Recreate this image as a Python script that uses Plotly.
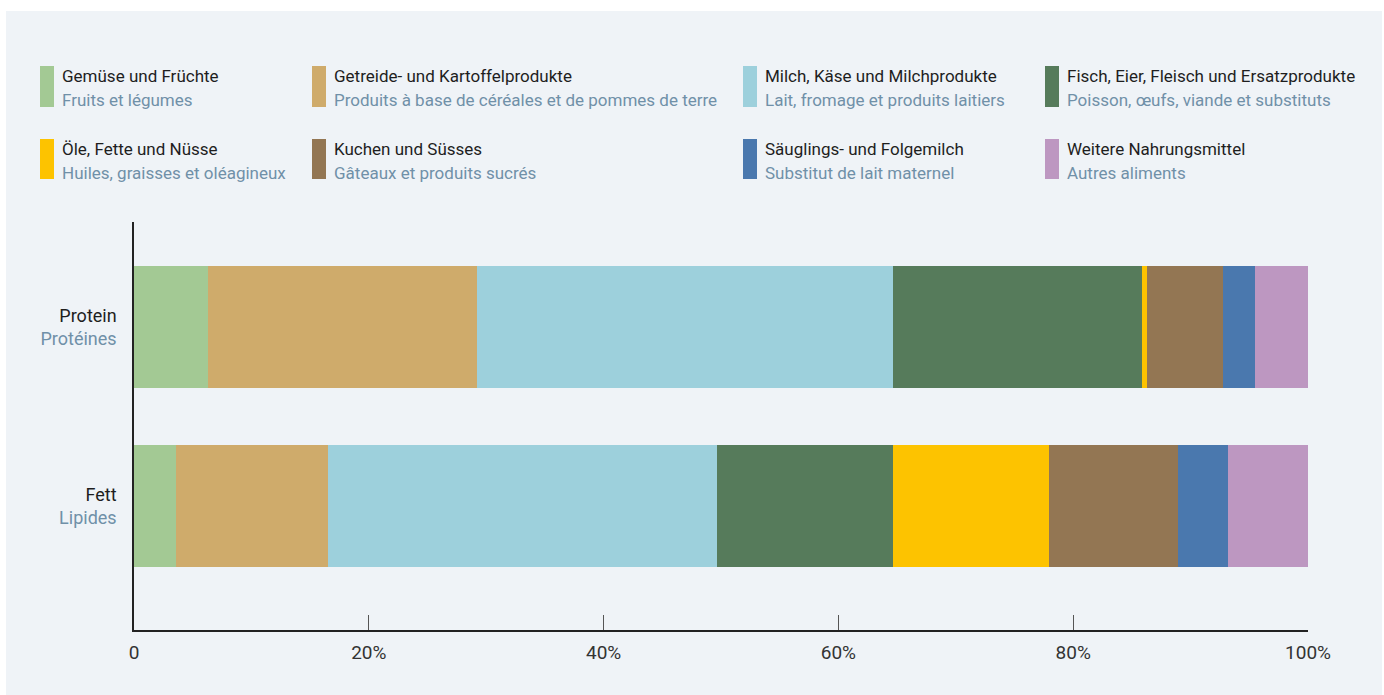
import plotly.graph_objects as go

# ---- data ----
categories = ["Fett", "Protein"]
cat_labels_de = {"Protein": "Protein", "Fett": "Fett"}
cat_labels_fr = {"Protein": "Protéines", "Fett": "Lipides"}

series_de = ["Gemüse und Früchte", "Getreide- und Kartoffelprodukte", "Milch, Käse und Milchprodukte",
             "Fisch, Eier, Fleisch und Ersatzprodukte", "Öle, Fette und Nüsse", "Kuchen und Süsses",
             "Säuglings- und Folgemilch", "Weitere Nahrungsmittel"]
series_fr = ["Fruits et légumes", "Produits à base de céréales et de pommes de terre",
             "Lait, fromage et produits laitiers", "Poisson, œufs, viande et substituts",
             "Huiles, graisses et oléagineux", "Gâteaux et produits sucrés",
             "Substitut de lait maternel", "Autres aliments"]
colors = ["#a3c994", "#cfab6b", "#9dd0dc", "#567b5b", "#fdc300", "#937653", "#4a78ae", "#bd97c1"]

# values in % : [Fett, Protein]
vals_gemuese = [3.6, 6.3]
vals_getreide = [12.9, 22.9]
vals_milch = [33.2, 35.45]
vals_fisch = [14.95, 21.25]
vals_oele = [13.25, 0.4]
vals_kuchen = [11.0, 6.5]
vals_saeugling = [4.3, 2.7]
vals_weitere = [6.8, 4.5]
values = [vals_gemuese, vals_getreide, vals_milch, vals_fisch, vals_oele, vals_kuchen, vals_saeugling, vals_weitere]

x_ticks = [0, 20, 40, 60, 80, 100]
x_ticktext = ["0", "20%", "40%", "60%", "80%", "100%"]

# ---- layout constants ----
W, H = 1384, 695
L, R, T, B = 134, 1308, 222, 630
FR_COLOR = "#7090a8"
TXT = "#1e1e1e"
FONT = "Roboto"

def px_x(px):
    return (px - L) / (R - L)

def px_y(py):
    return (B - py) / (B - T)

fig = go.Figure()
for name, vals, col in zip(series_de, values, colors):
    fig.add_trace(go.Bar(
        y=categories, x=vals, name=name, orientation="h",
        marker=dict(color=col, line=dict(width=0)),
        width=0.6816, showlegend=False,
    ))

ticktext_y = [f"{cat_labels_de[c]}<br><span style='color:{FR_COLOR}'>{cat_labels_fr[c]}</span>" for c in categories]

shapes = [
    dict(type="rect", xref="paper", yref="paper", layer="below",
         x0=px_x(6), x1=px_x(1382), y0=px_y(11), y1=px_y(700),
         fillcolor="#eff3f7", line=dict(width=0)),
]
annotations = []
col_x = [40, 312, 743, 1045]
row_y = [(66, 107), (139, 179)]
for i, (de, fr, col) in enumerate(zip(series_de, series_fr, colors)):
    r, c = divmod(i, 4)
    x0 = col_x[c]
    y0, y1 = row_y[r]
    shapes.append(dict(type="rect", xref="paper", yref="paper",
                       x0=px_x(x0), x1=px_x(x0 + 14), y0=px_y(y1), y1=px_y(y0),
                       fillcolor=col, line=dict(width=0)))
    annotations.append(dict(xref="paper", yref="paper", x=px_x(x0 + 20), y=px_y(y0 + 10),
                            text=de, showarrow=False, xanchor="left", yanchor="middle",
                            font=dict(family=FONT, size=17, color=TXT)))
    annotations.append(dict(xref="paper", yref="paper", x=px_x(x0 + 20), y=px_y(y0 + 34),
                            text=fr, showarrow=False, xanchor="left", yanchor="middle",
                            font=dict(family=FONT, size=17, color=FR_COLOR)))

fig.update_layout(
    width=W, height=H,
    margin=dict(l=L, r=W - R, t=T, b=H - B, pad=0),
    paper_bgcolor="white", plot_bgcolor="rgba(0,0,0,0)",
    barmode="stack", bargap=0,
    font=dict(family=FONT, size=17, color=TXT),
    xaxis=dict(range=[0, 100], tickvals=x_ticks, ticktext=x_ticktext,
               showgrid=False, zeroline=False, showline=True, linecolor="#222", linewidth=1.5,
               ticks="inside", ticklen=15, tickcolor="#555", tickwidth=1.2, ticklabelstandoff=4,
               tickfont=dict(family=FONT, size=19, color="#333"), fixedrange=True),
    yaxis=dict(type="category", categoryorder="array", categoryarray=categories,
               range=[-0.6927, 1.5866], tickvals=categories, ticktext=ticktext_y,
               showgrid=False, zeroline=False, showline=True, linecolor="#222", linewidth=1.5,
               ticks="", ticklabelstandoff=12,
               tickfont=dict(family=FONT, size=18, color=TXT), fixedrange=True),
    shapes=shapes, annotations=annotations,
)

fig.write_html("out.html")
